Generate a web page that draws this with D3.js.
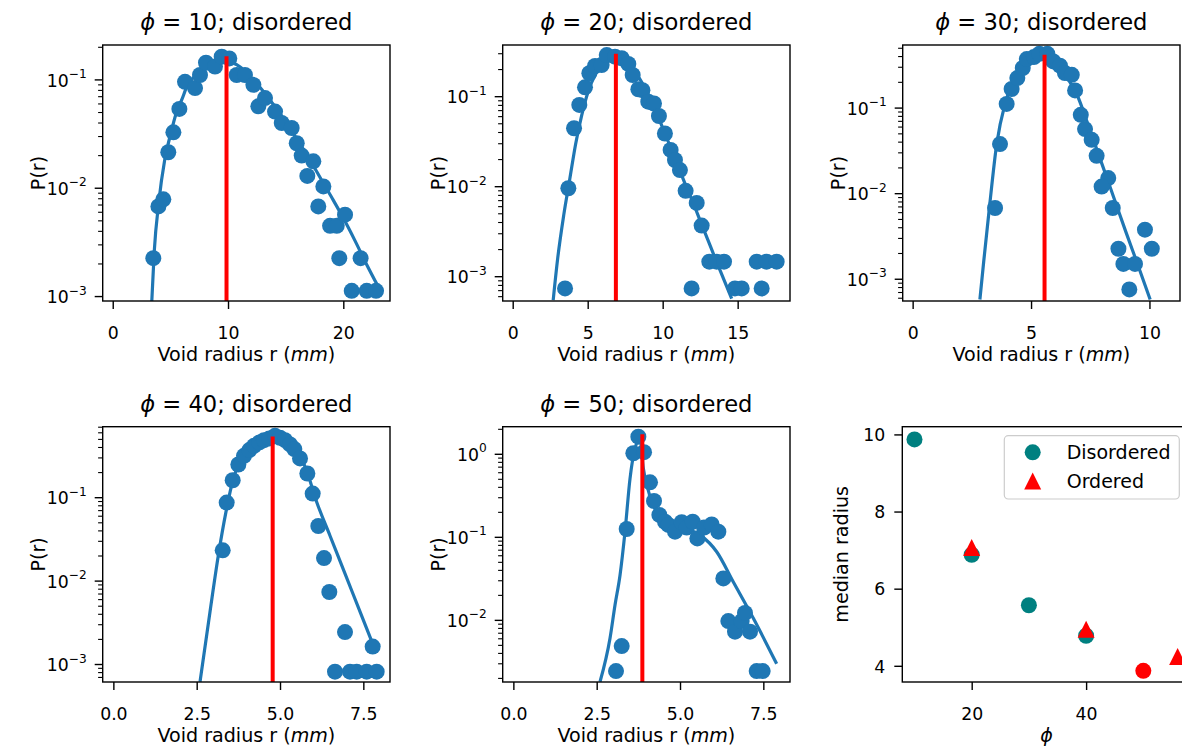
<!DOCTYPE html>
<html>
<head>
<meta charset="utf-8">
<script src="https://cdn.jsdelivr.net/npm/d3@7"></script>
<style>
body { margin: 0; background: #fff; }
svg { display: block; font-family: "DejaVu Sans", sans-serif; }
</style>
</head>
<body>
<svg id="chart" width="1182" height="749"></svg>
<script>
// void radius histograms, one pair of arrays per volume fraction
const r10 = [3.52,3.96,4.39,4.82,5.26,5.78,6.27,7.14,7.57,8.09,8.87,9.45,10.11,10.75,11.47,12.2,12.63,13.21,14.08,14.66,15.52,15.96,16.39,16.88,17.4,17.83,18.27,18.85,19.43,19.65,20.15,20.73,21.5,22.03,22.84];
const p10 = [0.00226,0.0068,0.0079,0.0215,0.0328,0.054,0.096,0.084,0.111,0.144,0.133,0.164,0.158,0.111,0.111,0.090,0.057,0.068,0.051,0.040,0.036,0.026,0.020,0.013,0.0177,0.0068,0.0104,0.0045,0.0045,0.00226,0.0057,0.00113,0.00226,0.00113,0.00113];
const r20 = [3.49,3.71,4.09,4.44,4.82,5.11,5.49,5.93,6.27,6.82,7.27,7.71,8.0,8.38,8.65,9.04,9.42,9.75,10.15,10.53,10.82,11.15,11.53,11.93,12.27,12.6,13.11,13.6,14.09,14.82,15.27,16.27,16.6,16.93,17.6];
const p20 = [0.00074,0.0096,0.0446,0.081,0.127,0.182,0.219,0.225,0.29,0.278,0.267,0.231,0.174,0.121,0.118,0.088,0.084,0.061,0.039,0.0256,0.0198,0.0153,0.0090,0.00074,0.0066,0.0037,0.00147,0.00147,0.00147,0.00074,0.00074,0.00147,0.00074,0.00147,0.00147];
const r30 = [3.48,3.69,3.97,4.18,4.42,4.65,4.82,5.12,5.35,5.69,5.94,6.22,6.43,6.72,6.86,7.1,7.28,7.56,7.77,8.26,7.98,8.45,9.81,8.69,10.1,8.9,9.39,9.15];
const p30 = [0.0068,0.038,0.112,0.167,0.224,0.294,0.374,0.395,0.431,0.431,0.351,0.313,0.257,0.245,0.161,0.0835,0.0568,0.0426,0.0277,0.0152,0.0121,0.0068,0.0038,0.00227,0.00227,0.00151,0.00151,0.00076];
const r40 = [3.28,3.40,3.58,3.75,3.92,4.08,4.22,4.38,4.52,4.68,4.85,5.0,5.15,5.3,5.43,5.6,5.82,5.98,6.15,6.32,6.48,6.95,7.78,6.65,7.1,7.3,7.6,7.9];
const p40 = [0.0234,0.0875,0.162,0.25,0.318,0.372,0.419,0.46,0.49,0.514,0.552,0.523,0.49,0.435,0.383,0.296,0.195,0.112,0.0458,0.0189,0.0074,0.00245,0.00164,0.00082,0.00082,0.00082,0.00082,0.00082];
const r50 = [3.08,3.25,3.40,3.6,3.75,3.92,4.10,4.22,4.38,4.55,4.65,4.85,5.05,5.2,5.38,5.52,5.72,5.95,6.15,6.3,6.45,6.65,6.85,6.95,7.1,7.3,7.48];
const p50 = [0.00245,0.0049,0.126,1.03,1.63,1.06,0.46,0.274,0.186,0.154,0.141,0.117,0.152,0.131,0.154,0.097,0.131,0.143,0.117,0.032,0.0098,0.0073,0.0098,0.0123,0.0073,0.00245,0.00245];

// fitted curves
const fitR10 = [3.38,3.6,4.0,4.5,5.0,5.5,6.0,6.5,7.0,8.0,9.0,10.0,11.0,12.0,13.0,14.0,15.0,16.0,17.0,18.0,19.0,20.0,21.0,22.0,23.0];
const fitP10 = [0.00087,0.0026,0.0075,0.018,0.031,0.049,0.066,0.090,0.105,0.128,0.143,0.146,0.133,0.105,0.080,0.058,0.041,0.028,0.019,0.0125,0.0082,0.0053,0.0033,0.0020,0.00125];
const fitR20 = [2.7,3.0,3.4,3.8,4.2,4.6,5.0,5.5,6.0,6.5,7.0,7.5,8.0,8.5,9.0,9.5,10.0,10.5,11.0,11.5,12.0,12.5,13.0,13.5,14.0,14.6];
const fitP20 = [0.00055,0.0016,0.0048,0.012,0.030,0.062,0.11,0.175,0.23,0.265,0.27,0.25,0.205,0.155,0.11,0.072,0.045,0.028,0.0174,0.0107,0.0068,0.0042,0.0026,0.0016,0.0010,0.00057];
const fitR30 = [2.84,3.0,3.24,3.55,3.9,4.2,4.5,4.8,5.1,5.4,5.7,6.0,6.3,6.6,6.93,7.5,8.0,8.5,9.0,9.5,10.03];
const fitP30 = [0.00058,0.0016,0.0068,0.038,0.112,0.19,0.27,0.34,0.39,0.41,0.40,0.355,0.285,0.21,0.145,0.054,0.022,0.0089,0.0036,0.0015,0.00058];
const fitR40 = [2.6,2.9,3.15,3.38,3.6,3.8,4.0,4.3,4.6,4.9,5.2,5.5,5.8,6.1,6.5,6.95,7.4,7.8];
const fitP40 = [0.00062,0.0043,0.0204,0.068,0.17,0.27,0.36,0.45,0.52,0.55,0.50,0.38,0.21,0.089,0.035,0.0123,0.0043,0.0017];
const fitR50 = [2.6,2.9,3.05,3.2,3.35,3.5,3.65,3.8,3.9,4.0,4.2,4.5,5.0,5.6,6.1,6.6,7.2,7.9];
const fitP50 = [0.00182,0.0061,0.0153,0.035,0.117,0.51,1.18,1.53,0.68,0.43,0.245,0.162,0.134,0.107,0.067,0.029,0.0106,0.0030];

// median radius (red lines) and their heights
const medianR = [9.87, 6.88, 5.57, 4.78, 3.87];
const medianTop = [0.165, 0.30, 0.42, 0.54, 1.74];

// summary panel
const phiDis = [10, 20, 30, 40];
const medDis = [9.87, 6.88, 5.57, 4.78];
const phiOrd = [20, 40, 56];
const medOrd = [7.07, 4.95, 4.24];
const phiExtra = [50];
const medExtra = [3.87];

const phis = [10, 20, 30, 40, 50];
const xTicks = [[0, 10, 20], [0, 5, 10, 15], [0, 5, 10], [0, 2.5, 5, 7.5], [0, 2.5, 5, 7.5]];

const BLUE = "#1f77b4", TEAL = "#008080", RED = "#ff0000";

// axes boxes in pixels + axis limits
const boxes = [
    {left: 102.7, right: 390,  top: 45,    bottom: 301, xdom: [-0.87, 24.05], ydom: [0.00091, 0.21]},
    {left: 502.7, right: 790,  top: 45,    bottom: 301, xdom: [-0.667, 18.49], ydom: [0.000537, 0.375]},
    {left: 902.7, right: 1180, top: 45,    bottom: 301, xdom: [-0.42, 11.29], ydom: [0.000557, 0.546]},
    {left: 102.7, right: 390,  top: 426.7, bottom: 682, xdom: [-0.32, 8.30], ydom: [0.000617, 0.71]},
    {left: 502.7, right: 790,  top: 426.7, bottom: 682, xdom: [-0.32, 8.30], ydom: [0.00181, 2.15]},
    {left: 902.3, right: 1190.8, top: 426.7, bottom: 682, xdom: [7.87, 58.3], ydom: [3.58, 10.2]}
];

const svg = d3.select("#chart");
svg.append("rect").attr("width", 1182).attr("height", 749).attr("fill", "#fff");
const defs = svg.append("defs");

const xAxis = (L, x, vals, fmt) => {
    const g = svg.append("g").attr("transform", `translate(0,${L.bottom})`)
        .call(d3.axisBottom(x).tickValues(vals).tickFormat(fmt).tickSize(8).tickSizeOuter(0));
    g.attr("font-family", null).attr("font-size", null);
    g.select(".domain").remove();
    g.selectAll(".tick line").attr("stroke", "#000").attr("stroke-width", 1.4);
    g.selectAll(".tick text").attr("fill", "#000").attr("font-size", 17.3).attr("y", 38.3).attr("dy", null);
};

const logAxis = (L, y) => {
    const g = svg.append("g");
    const [lo, hi] = y.domain();
    for (let e = Math.floor(Math.log10(lo)); e <= Math.floor(Math.log10(hi)); e++) {
        for (let m = 1; m <= 9; m++) {
            const v = m * Math.pow(10, e);
            if (v < lo || v > hi) continue;
            const yy = y(v);
            g.append("line")
                .attr("x1", L.left).attr("x2", L.left - (m === 1 ? 8 : 4.6))
                .attr("y1", yy).attr("y2", yy)
                .attr("stroke", "#000").attr("stroke-width", m === 1 ? 1.4 : 1.1);
            if (m === 1) {
                const t = g.append("text").attr("x", L.left - 16).attr("y", yy + 6.7)
                    .attr("text-anchor", "end").attr("font-size", 17.3);
                t.append("tspan").text("10");
                t.append("tspan").attr("font-size", 12.2).attr("dy", -8.7)
                    .text(e < 0 ? "\u2212" + (-e) : String(e));
            }
        }
    }
};

const clipFor = (L, i) => {
    defs.append("clipPath").attr("id", "clip" + i).append("rect")
        .attr("x", L.left).attr("y", L.top).attr("width", L.right - L.left).attr("height", L.bottom - L.top);
    return svg.append("g").attr("clip-path", `url(#clip${i})`);
};

const frame = L => svg.append("rect")
    .attr("x", L.left).attr("y", L.top)
    .attr("width", L.right - L.left).attr("height", L.bottom - L.top)
    .attr("fill", "none").attr("stroke", "#000").attr("stroke-width", 1.4);

const title = (L, phi) => {
    const t = svg.append("text").attr("x", (L.left + L.right) / 2).attr("y", L.top - 15)
        .attr("text-anchor", "middle").attr("font-size", 22.6);
    t.append("tspan").attr("font-style", "italic").text("\u03d5");
    t.append("tspan").text(` = ${phi}; disordered`);
};

const xLabel = L => {
    const t = svg.append("text").attr("x", (L.left + L.right) / 2).attr("y", L.bottom + 59.5)
        .attr("text-anchor", "middle").attr("font-size", 19.1);
    t.append("tspan").text("Void radius r (");
    t.append("tspan").attr("font-style", "italic").text("mm");
    t.append("tspan").text(")");
};

const yLabel = (L, txt, off) => svg.append("text")
    .attr("transform", `translate(${L.left - off},${(L.top + L.bottom) / 2}) rotate(-90)`)
    .attr("text-anchor", "middle").attr("font-size", 19.1).text(txt);

// the five histogram panels
const dots = [[r10, p10], [r20, p20], [r30, p30], [r40, p40], [r50, p50]];
const fits = [[fitR10, fitP10], [fitR20, fitP20], [fitR30, fitP30], [fitR40, fitP40], [fitR50, fitP50]];

phis.forEach((phi, i) => {
    const L = boxes[i];
    const x = d3.scaleLinear().domain(L.xdom).range([L.left, L.right]);
    const y = d3.scaleLog().domain(L.ydom).range([L.bottom, L.top]);
    const g = clipFor(L, i);

    const [fr, fp] = fits[i];
    const line = d3.line().x(d => x(d[0])).y(d => y(d[1])).curve(d3.curveMonotoneX);
    g.append("path").datum(d3.zip(fr, fp)).attr("d", line)
        .attr("fill", "none").attr("stroke", BLUE).attr("stroke-width", 3.2);

    const [dr, dp] = dots[i];
    g.selectAll("circle.pt").data(d3.zip(dr, dp)).join("circle")
        .attr("cx", d => x(d[0])).attr("cy", d => y(d[1])).attr("r", 8).attr("fill", BLUE);

    g.append("line")
        .attr("x1", x(medianR[i])).attr("x2", x(medianR[i]))
        .attr("y1", L.bottom + 2).attr("y2", y(medianTop[i]))
        .attr("stroke", RED).attr("stroke-width", 4);

    const fmt = i >= 3 ? d3.format(".1f") : d3.format("d");
    xAxis(L, x, xTicks[i], fmt);
    logAxis(L, y);
    frame(L);
    title(L, phi);
    xLabel(L);
    yLabel(L, "P(r)", 58);
});

// summary panel: median radius vs phi
{
    const L = boxes[5];
    const x = d3.scaleLinear().domain(L.xdom).range([L.left, L.right]);
    const y = d3.scaleLinear().domain(L.ydom).range([L.bottom, L.top]);
    const tri = s => `M0,${-s / 2}L${s / 2},${s / 2}L${-s / 2},${s / 2}Z`;

    svg.selectAll("circle.dis").data(d3.zip(phiDis, medDis)).join("circle")
        .attr("class", "dis").attr("cx", d => x(d[0])).attr("cy", d => y(d[1])).attr("r", 8).attr("fill", TEAL);
    svg.selectAll("path.ord").data(d3.zip(phiOrd, medOrd)).join("path")
        .attr("class", "ord").attr("d", tri(17))
        .attr("transform", d => `translate(${x(d[0])},${y(d[1])})`).attr("fill", RED);
    svg.selectAll("circle.extra").data(d3.zip(phiExtra, medExtra)).join("circle")
        .attr("class", "extra").attr("cx", d => x(d[0])).attr("cy", d => y(d[1])).attr("r", 8).attr("fill", RED);

    xAxis(L, x, [20, 40], d3.format("d"));
    const gy = svg.append("g").attr("transform", `translate(${L.left},0)`)
        .call(d3.axisLeft(y).tickValues([4, 6, 8, 10]).tickFormat(d3.format("d")).tickSize(8).tickSizeOuter(0));
    gy.attr("font-family", null).attr("font-size", null);
    gy.select(".domain").remove();
    gy.selectAll(".tick line").attr("stroke", "#000").attr("stroke-width", 1.4);
    gy.selectAll(".tick text").attr("fill", "#000").attr("font-size", 17.3)
        .attr("x", -17).attr("dy", null).attr("y", 6.3);
    frame(L);

    svg.append("text").attr("x", (L.left + L.right) / 2).attr("y", L.bottom + 59.5)
        .attr("text-anchor", "middle").attr("font-size", 19.1).attr("font-style", "italic").text("\u03d5");
    yLabel(L, "median radius", 54);

    // legend
    const lg = svg.append("g");
    lg.append("rect").attr("x", 1004.3).attr("y", 435.7).attr("width", 175).attr("height", 63.3)
        .attr("rx", 4).attr("fill", "#fff").attr("fill-opacity", 0.8).attr("stroke", "#cccccc").attr("stroke-width", 1.2);
    lg.append("circle").attr("cx", 1032.7).attr("cy", 452.3).attr("r", 8).attr("fill", TEAL);
    lg.append("path").attr("d", tri(17)).attr("transform", "translate(1032.7,481)").attr("fill", RED);
    lg.append("text").attr("x", 1066.7).attr("y", 459.3).attr("font-size", 19).text("Disordered");
    lg.append("text").attr("x", 1066.7).attr("y", 488).attr("font-size", 19).text("Ordered");
}
</script>
</body>
</html>
